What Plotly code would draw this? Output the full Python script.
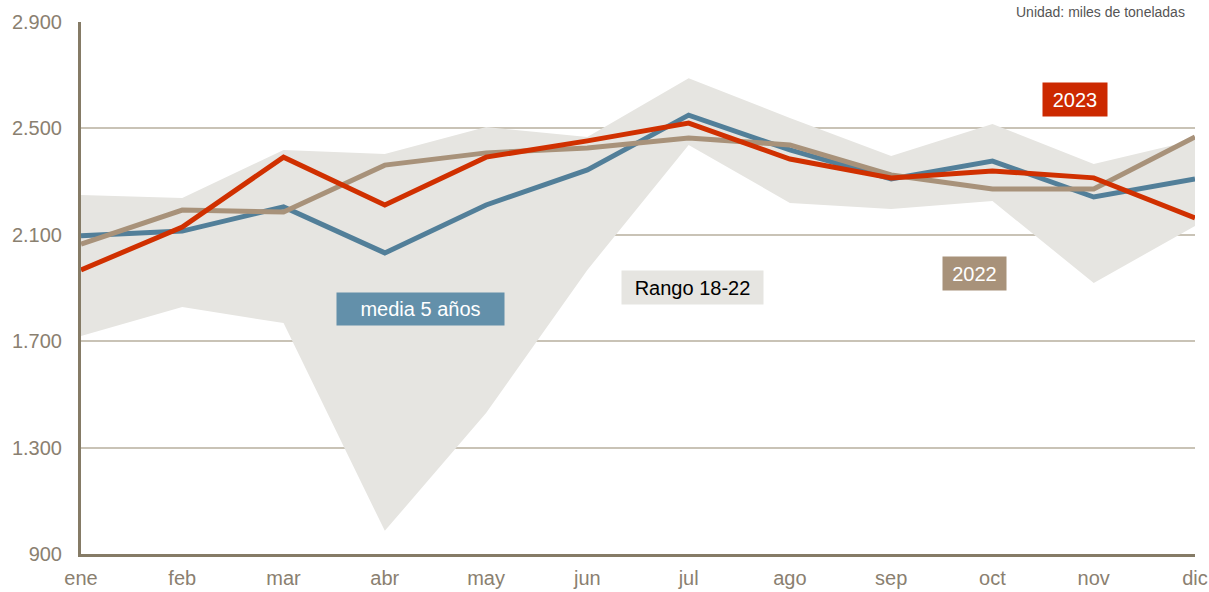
import plotly.graph_objects as go

months = ["ene", "feb", "mar", "abr", "may", "jun", "jul", "ago", "sep", "oct", "nov", "dic"]
media5 = [2096, 2114, 2205, 2032, 2212, 2344, 2550, 2419, 2310, 2377, 2242, 2310]
y2023 = [1968, 2129, 2392, 2212, 2392, 2453, 2520, 2385, 2314, 2340, 2314, 2163]
y2022 = [2065, 2193, 2186, 2362, 2408, 2426, 2464, 2438, 2325, 2272, 2272, 2468]
rango_max = [2250, 2238, 2419, 2404, 2505, 2468, 2689, 2539, 2396, 2517, 2366, 2456]
rango_min = [1720, 1829, 1768, 987, 1430, 1968, 2438, 2220, 2197, 2227, 1919, 2133]
ytick_vals = [900, 1300, 1700, 2100, 2500, 2900]
ytick_text = ["900", "1.300", "1.700", "2.100", "2.500", "2.900"]

x = list(range(len(months)))

C_BLUE = "#527f99"
C_RED = "#d03000"
C_TAN = "#a8927a"
C_BAND = "#e6e5e1"
C_AXIS = "#857b66"
C_TICK = "#8a8070"
C_GRID = "#c9c3b6"

fig = go.Figure()
fig.add_trace(go.Scatter(x=x, y=rango_min, mode="lines", line=dict(width=0, color=C_BAND),
                         showlegend=False, hoverinfo="skip"))
fig.add_trace(go.Scatter(x=x, y=rango_max, mode="lines", line=dict(width=0, color=C_BAND),
                         fill="tonexty", fillcolor=C_BAND, showlegend=False, name="Rango 18-22"))
fig.add_trace(go.Scatter(x=x, y=media5, mode="lines", line=dict(width=5, color=C_BLUE),
                         showlegend=False, name="media 5 años"))
fig.add_trace(go.Scatter(x=x, y=y2022, mode="lines", line=dict(width=5, color=C_TAN),
                         showlegend=False, name="2022"))
fig.add_trace(go.Scatter(x=x, y=y2023, mode="lines", line=dict(width=5, color=C_RED),
                         showlegend=False, name="2023"))

font_family = "Liberation Sans, Arial, sans-serif"

def label(text, xv, yv, bg, fg, w, h):
    fig.add_annotation(x=xv, y=yv, xref="x", yref="y", text=text, showarrow=False,
                       font=dict(family=font_family, size=20, color=fg),
                       bgcolor=bg, width=w, height=h, borderpad=0, align="center")

label("media 5 años", 3.352, 1821, "#6390aa", "white", 167, 32)
label("Rango 18-22", 6.038, 1902, C_BAND, "black", 141, 33)
label("2022", 8.818, 1955, C_TAN, "white", 63, 33)
label("2023", 9.815, 2609, "#cc2900", "white", 64, 33)

fig.add_annotation(x=(1187 - 81) / (1195 - 81), y=1.0, xref="paper", yref="paper", yshift=20,
                   text="Unidad: miles de toneladas", showarrow=False,
                   xanchor="right", yanchor="top",
                   font=dict(family=font_family, size=14, color="#555555"))

fig.update_layout(
    width=1209, height=592,
    margin=dict(l=81, r=14, t=22, b=38, autoexpand=False),
    plot_bgcolor="white", paper_bgcolor="white",
    font=dict(family=font_family, size=20, color=C_TICK),
)
fig.update_xaxes(range=[0, 11], tickvals=x, ticktext=months, showgrid=False, automargin=False,
                 showline=True, linecolor=C_AXIS, linewidth=3, ticks="", zeroline=False,
                 tickfont=dict(size=20, color=C_TICK), ticklabelstandoff=4)
fig.update_yaxes(range=[900, 2900], tickvals=ytick_vals, ticktext=ytick_text, automargin=False,
                 showgrid=True, gridcolor=C_GRID, gridwidth=1.5,
                 showline=True, linecolor=C_AXIS, linewidth=3, ticks="", zeroline=False,
                 tickfont=dict(size=20, color=C_TICK), ticklabelstandoff=12)

fig.write_html("out.html", config={"displayModeBar": False},
               post_script="document.body.style.margin='0';document.body.style.overflow='hidden';")
